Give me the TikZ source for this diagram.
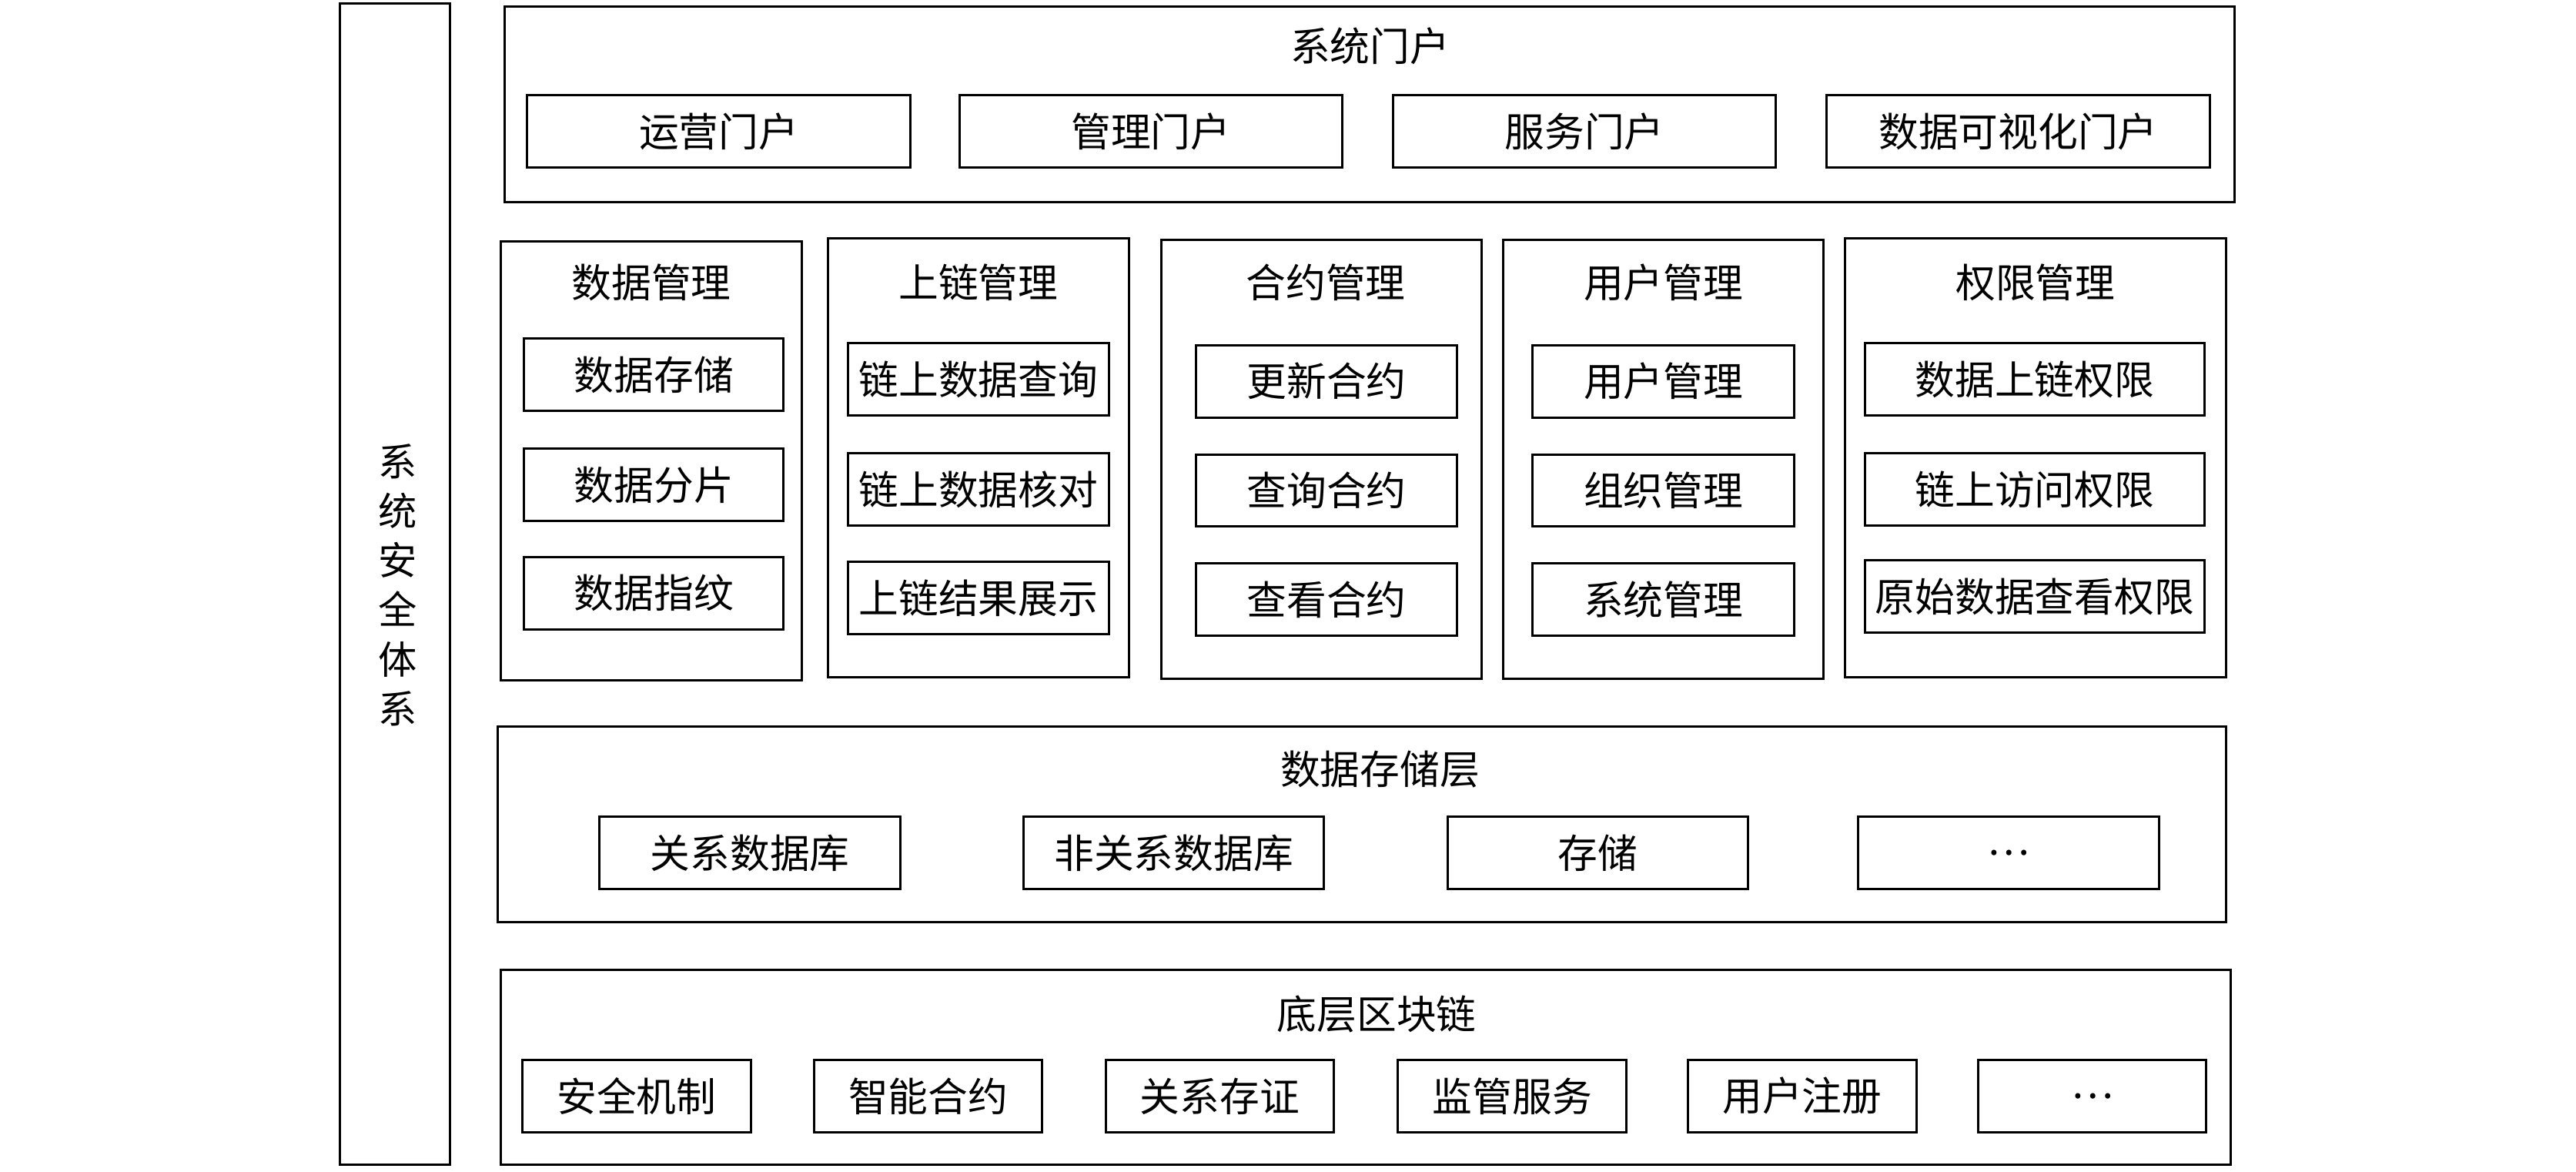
\documentclass[tikz,border=0pt]{standalone}
\usepackage{fontspec}
\setmainfont{Noto Sans CJK SC}
\begin{document}
\begin{tikzpicture}[
    x=0.2mm, y=-0.2mm,
    layer/.style={draw, line width=0.8pt, inner sep=0pt},
    item/.style={draw, line width=0.8pt, inner sep=0pt, minimum height=8.8mm, font=\fontsize{13.8}{15}\selectfont},
    heading/.style={font=\fontsize{13.8}{15}\selectfont}
]
\useasboundingbox (0,0) rectangle (1568,713);

% security column
\node[layer, minimum width=13.4mm, minimum height=141.4mm] (sec) at (240.5,355.5) {};
\node[align=center, font=\fontsize{13.4}{17.1}\selectfont] (sectext) at (242,356) {系\\统\\安\\全\\体\\系};

% portals
\node[layer, minimum width=210.6mm, minimum height=23.8mm] (portal) at (833.5,63.5) {};
\node[heading] (portaltitle) at (834,28) {系统门户};
\node[item, minimum width=46.6mm] (ops) at (437.5,80) {运营门户};
\node[item, minimum width=46.6mm] (admin) at (700.5,80) {管理门户};
\node[item, minimum width=46.6mm] (service) at (964.5,80) {服务门户};
\node[item, minimum width=46.6mm] (visual) at (1228.5,80) {数据可视化门户};

% management modules
\node[layer, minimum width=36.6mm, minimum height=53.4mm] (datamgr) at (396.5,280.5) {};
\node[heading] (datamgrtitle) at (396.5,172) {数据管理};
\node[item, minimum width=31.6mm] (store) at (398,228) {数据存储};
\node[item, minimum width=31.6mm] (shard) at (398,295) {数据分片};
\node[item, minimum width=31.6mm] (finger) at (398,361) {数据指纹};

\node[layer, minimum width=36.6mm, minimum height=53.4mm] (chainmgr) at (595.5,278.5) {};
\node[heading] (chainmgrtitle) at (595.5,172) {上链管理};
\node[item, minimum width=31.8mm] (query) at (595.5,231) {链上数据查询};
\node[item, minimum width=31.8mm] (check) at (595.5,298) {链上数据核对};
\node[item, minimum width=31.8mm] (result) at (595.5,364) {上链结果展示};

\node[layer, minimum width=39mm, minimum height=53.4mm] (contractmgr) at (804.5,279.5) {};
\node[heading] (contractmgrtitle) at (807,172) {合约管理};
\node[item, minimum width=31.8mm] (update) at (807.5,232) {更新合约};
\node[item, minimum width=31.8mm] (lookup) at (807.5,298.5) {查询合约};
\node[item, minimum width=31.8mm] (view) at (807.5,365) {查看合约};

\node[layer, minimum width=39mm, minimum height=53.4mm] (usermgr) at (1012.5,279.5) {};
\node[heading] (usermgrtitle) at (1012.5,172) {用户管理};
\node[item, minimum width=31.8mm] (users) at (1012.5,232) {用户管理};
\node[item, minimum width=31.8mm] (org) at (1012.5,298.5) {组织管理};
\node[item, minimum width=31.8mm] (system) at (1012.5,365) {系统管理};

\node[layer, minimum width=46.4mm, minimum height=53.4mm] (rightmgr) at (1239,278.5) {};
\node[heading] (rightmgrtitle) at (1239,172) {权限管理};
\node[item, minimum width=41.4mm] (upright) at (1238.5,231) {数据上链权限};
\node[item, minimum width=41.4mm] (access) at (1238.5,298) {链上访问权限};
\node[item, minimum width=41.4mm] (raw) at (1238.5,363) {原始数据查看权限};

% storage layer
\node[layer, minimum width=210.4mm, minimum height=23.8mm] (storage) at (829,501.5) {};
\node[heading] (storagetitle) at (840,468) {数据存储层};
\node[item, minimum width=36.6mm] (rdb) at (456.5,519) {关系数据库};
\node[item, minimum width=36.6mm] (nosql) at (714.5,519) {非关系数据库};
\node[item, minimum width=36.6mm] (disk) at (972.5,519) {存储};
\node[item, minimum width=36.6mm] (moredb) at (1222.5,519) {…};

% blockchain layer
\node[layer, minimum width=210.6mm, minimum height=23.8mm] (chain) at (831.5,649.5) {};
\node[heading] (chaintitle) at (838,617) {底层区块链};
\node[item, minimum width=27.8mm] (safety) at (387.5,667) {安全机制};
\node[item, minimum width=27.8mm] (smart) at (565,667) {智能合约};
\node[item, minimum width=27.8mm] (proof) at (742.5,667) {关系存证};
\node[item, minimum width=27.8mm] (super) at (920.5,667) {监管服务};
\node[item, minimum width=27.8mm] (register) at (1097,667) {用户注册};
\node[item, minimum width=27.8mm] (morechain) at (1273.5,667) {…};
\end{tikzpicture}
\end{document}
